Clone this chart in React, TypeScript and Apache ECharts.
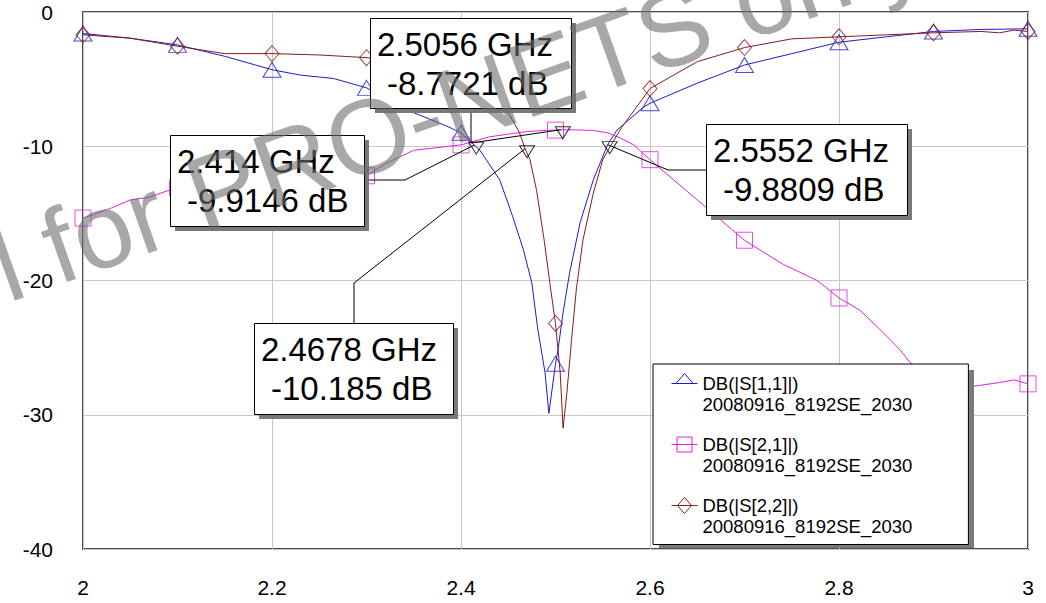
import React, { useEffect, useRef } from 'react';
import * as echarts from 'echarts';

// ---- data ----
const s11Freq = [2.0, 2.05, 2.1, 2.15, 2.2, 2.23, 2.265, 2.3, 2.35, 2.385, 2.4, 2.414, 2.42, 2.441, 2.455, 2.466, 2.475, 2.481, 2.489, 2.493, 2.5, 2.503, 2.508, 2.515, 2.526, 2.54, 2.5545, 2.5552, 2.565, 2.593, 2.6, 2.65, 2.7, 2.75, 2.8, 2.85, 2.9, 2.95, 3.0];
const s11Db = [-1.6, -1.95, -2.45, -3.3, -4.3, -4.7, -4.95, -5.65, -7.5, -8.5, -9.0, -9.91, -10.3, -12.5, -15.3, -17.7, -20.2, -23.5, -26.9, -29.9, -26.2, -25.0, -22.4, -19.4, -15.7, -12.5, -10.0, -9.88, -8.8, -7.1, -6.8, -5.3, -3.95, -3.1, -2.25, -1.85, -1.45, -1.3, -1.25];

const s21Freq = [2.0, 2.03, 2.05, 2.07, 2.09, 2.1, 2.2, 2.3, 2.32, 2.35, 2.4, 2.43, 2.47, 2.49, 2.5, 2.5056, 2.52, 2.54, 2.555, 2.569, 2.583, 2.6, 2.65, 2.7, 2.741, 2.777, 2.8, 2.822, 2.847, 2.865, 2.875, 2.9, 2.94, 2.97, 2.985, 3.0];
const s21Db = [-15.35, -14.6, -14.0, -13.8, -13.3, -13.1, -12.7, -12.2, -11.3, -10.3, -9.9, -9.3, -8.9, -8.82, -8.8, -8.772, -8.78, -8.82, -9.0, -9.4, -9.9, -11.0, -14.0, -17.0, -18.8, -20.0, -21.3, -22.2, -23.9, -25.2, -26.1, -27.3, -27.9, -27.6, -27.4, -27.7];

const s22Freq = [2.0, 2.05, 2.1, 2.15, 2.2, 2.25, 2.3, 2.35, 2.4, 2.42, 2.44, 2.45, 2.462, 2.4678, 2.473, 2.48, 2.488, 2.495, 2.5, 2.505, 2.508, 2.512, 2.517, 2.522, 2.529, 2.54, 2.55, 2.558, 2.57, 2.6, 2.65, 2.7, 2.75, 2.8, 2.85, 2.9, 2.95, 2.97, 2.985, 3.0];
const s22Db = [-1.7, -1.95, -2.55, -3.1, -3.1, -3.2, -3.4, -3.8, -4.6, -5.4, -6.7, -7.5, -9.0, -10.185, -11.0, -13.3, -17.0, -20.7, -23.2, -26.9, -31.0, -28.4, -24.4, -20.7, -17.0, -13.5, -11.0, -10.0, -8.6, -5.7, -3.7, -2.65, -2.0, -1.85, -1.7, -1.55, -1.45, -1.55, -1.35, -1.45];

const markerFreq = [2.414, 2.4678, 2.5056, 2.5552];
const markerDb = [-9.9146, -10.185, -8.7721, -9.8809];

const traceNames = ['DB(|S[1,1]|)', 'DB(|S[2,1]|)', 'DB(|S[2,2]|)'];
const dataSourceName = '20080916_8192SE_2030';
const watermarkText = 'l for PRO-NETS only';

// ---- styles / layout ----
const FONT = '"Liberation Sans", Arial, Helvetica, sans-serif';
const COLORS = ['#1c1cd0', '#e020e0', '#8b1a1a'];
const SHADOW = '#7a7a7a';

const calloutLayout = [
  { x: 170, y: 135, w: 194, h: 91, anchor: [364, 180], knee: [405, 180] },
  { x: 254, y: 323, w: 199, h: 91, anchor: [354, 323], knee: [354, 283] },
  { x: 370, y: 18, w: 201, h: 90, anchor: [471, 108], knee: [471, 143] },
  { x: 706, y: 124, w: 201, h: 91, anchor: [706, 170], knee: [668, 170] },
];

const legendIcons = [
  'path://M0,0L0,0M26,42L26,42M0,10.5L26,10.5M13,0.5L21.5,10.5L4.5,10.5Z',
  'path://M0,0L0,0M26,42L26,42M0,10.5L26,10.5M5.5,3L20.5,3L20.5,18L5.5,18Z',
  'path://M0,0L0,0M26,42L26,42M0,10.5L26,10.5M13,2.5L20,10.5L13,18.5L6,10.5Z',
];

function pairs(f: number[], d: number[]) {
  return f.map((x, i) => [x, d[i]]);
}
function tenths(f: number[], d: number[]) {
  return pairs(f, d).filter((p) => Math.abs(p[0] * 10 - Math.round(p[0] * 10)) < 1e-6);
}

export default function App() {
  const ref = useRef<HTMLDivElement>(null);

  useEffect(() => {
    if (!ref.current) return;
    const chart = echarts.init(ref.current, undefined, { renderer: 'svg' });

    const lineSeries = [
      [s11Freq, s11Db],
      [s21Freq, s21Db],
      [s22Freq, s22Db],
    ].map(([f, d], i) => ({
      name: traceNames[i],
      type: 'line',
      data: pairs(f, d),
      showSymbol: false,
      symbol: 'none',
      lineStyle: { color: COLORS[i], width: 1 },
      itemStyle: { color: COLORS[i] },
      emphasis: { disabled: true },
      silent: true,
      z: 2,
    }));

    const symbolShapes = ['triangle', 'rect', 'diamond'];
    const symbolSizes = [[18, 15], [16, 16], [14, 16]];
    const symbolSeries = [
      [s11Freq, s11Db],
      [s21Freq, s21Db],
      [s22Freq, s22Db],
    ].map(([f, d], i) => ({
      name: traceNames[i] + ' symbols',
      type: 'scatter',
      data: tenths(f, d),
      symbol: symbolShapes[i],
      symbolSize: symbolSizes[i],
      itemStyle: { color: 'rgba(0,0,0,0)', borderColor: COLORS[i], borderWidth: 1 },
      emphasis: { disabled: true },
      silent: true,
      z: 3,
    }));

    const option: any = {
      animation: false,
      backgroundColor: '#ffffff',
      grid: {
        left: 83,
        right: 18,
        top: 12,
        bottom: 54,
        show: true,
        borderColor: '#4a4a4a',
        borderWidth: 2,
        backgroundColor: 'rgba(0,0,0,0)',
      },
      xAxis: {
        type: 'value',
        min: 2,
        max: 3,
        interval: 0.2,
        axisLine: { show: false },
        axisTick: { show: false },
        splitLine: { show: true, lineStyle: { color: '#c8c8c8', width: 1 } },
        axisLabel: { color: '#000', fontSize: 21, fontFamily: FONT, margin: 28 },
      },
      yAxis: {
        type: 'value',
        min: -40,
        max: 0,
        interval: 10,
        axisLine: { show: false },
        axisTick: { show: false },
        splitLine: { show: true, lineStyle: { color: '#c8c8c8', width: 1 } },
        axisLabel: { color: '#000', fontSize: 21, fontFamily: FONT, margin: 30 },
      },
      legend: {
        left: 653,
        top: 364,
        orient: 'vertical',
        itemWidth: 26,
        itemHeight: 42,
        itemGap: 18,
        padding: [8.5, 56, 7, 18],
        backgroundColor: '#ffffff',
        borderColor: '#000000',
        borderWidth: 1,
        selectedMode: false,
        symbolKeepAspect: false,
        z: 4,
        textStyle: { fontSize: 18.5, lineHeight: 21, color: '#000', fontFamily: FONT },
        formatter: (name: string) => name + '\n' + dataSourceName,
        data: traceNames.map((n, i) => ({
          name: n,
          icon: legendIcons[i],
          itemStyle: { color: 'rgba(0,0,0,0)', borderColor: COLORS[i], borderWidth: 1 },
        })),
      },
      series: [
        ...lineSeries,
        ...symbolSeries,
        {
          name: 'Markers',
          type: 'scatter',
          data: pairs(markerFreq, markerDb),
          symbol: 'triangle',
          symbolRotate: 180,
          symbolSize: [15, 12],
          symbolOffset: [2, 3],
          itemStyle: { color: 'rgba(0,0,0,0)', borderColor: '#000', borderWidth: 1 },
          emphasis: { disabled: true },
          silent: true,
          z: 4,
        },
      ],
    };

    chart.setOption(option);

    const els: any[] = [];
    els.push({
      type: 'rect',
      z: 3.5,
      silent: true,
      shape: { x: 659, y: 370, width: 315, height: 178 },
      style: { fill: SHADOW },
    });
    markerFreq.forEach((f, i) => {
      const b = calloutLayout[i];
      const p = chart.convertToPixel({ xAxisIndex: 0, yAxisIndex: 0 } as any, [f, markerDb[i]]) as number[];
      els.push({
        type: 'polyline',
        z: 40,
        silent: true,
        shape: { points: [b.anchor, b.knee, p] },
        style: { stroke: '#000', lineWidth: 1, fill: null },
      });
      els.push({
        type: 'rect',
        z: 41,
        silent: true,
        shape: { x: b.x + 5, y: b.y + 5, width: b.w, height: b.h },
        style: { fill: SHADOW },
      });
      els.push({
        type: 'rect',
        z: 42,
        silent: true,
        shape: { x: b.x + 0.5, y: b.y + 0.5, width: b.w, height: b.h },
        style: { fill: '#fff', stroke: '#000', lineWidth: 1 },
      });
      els.push({
        type: 'text',
        z: 43,
        silent: true,
        x: b.x + 7,
        y: b.y + 26,
        style: { text: `${f} GHz`, fontSize: 33, fontFamily: FONT, fill: '#000', align: 'left', verticalAlign: 'middle' },
      });
      els.push({
        type: 'text',
        z: 43,
        silent: true,
        x: b.x + 17,
        y: b.y + 65,
        style: { text: `${markerDb[i]} dB`, fontSize: 33, fontFamily: FONT, fill: '#000', align: 'left', verticalAlign: 'middle' },
      });
    });
    els.push({
      type: 'text',
      z: 100,
      silent: true,
      x: -4,
      y: 268,
      rotation: (19.5 * Math.PI) / 180,
      style: {
        text: watermarkText,
        fontSize: 106,
        fontFamily: FONT,
        fill: 'rgba(110,110,110,0.6)',
        align: 'left',
        verticalAlign: 'middle',
      },
    });

    chart.setOption({ graphic: { elements: els } });

    return () => chart.dispose();
  }, []);

  return (
    <div
      ref={ref}
      style={{ position: 'fixed', left: 0, top: 0, width: 1046, height: 603, background: '#fff' }}
    />
  );
}
